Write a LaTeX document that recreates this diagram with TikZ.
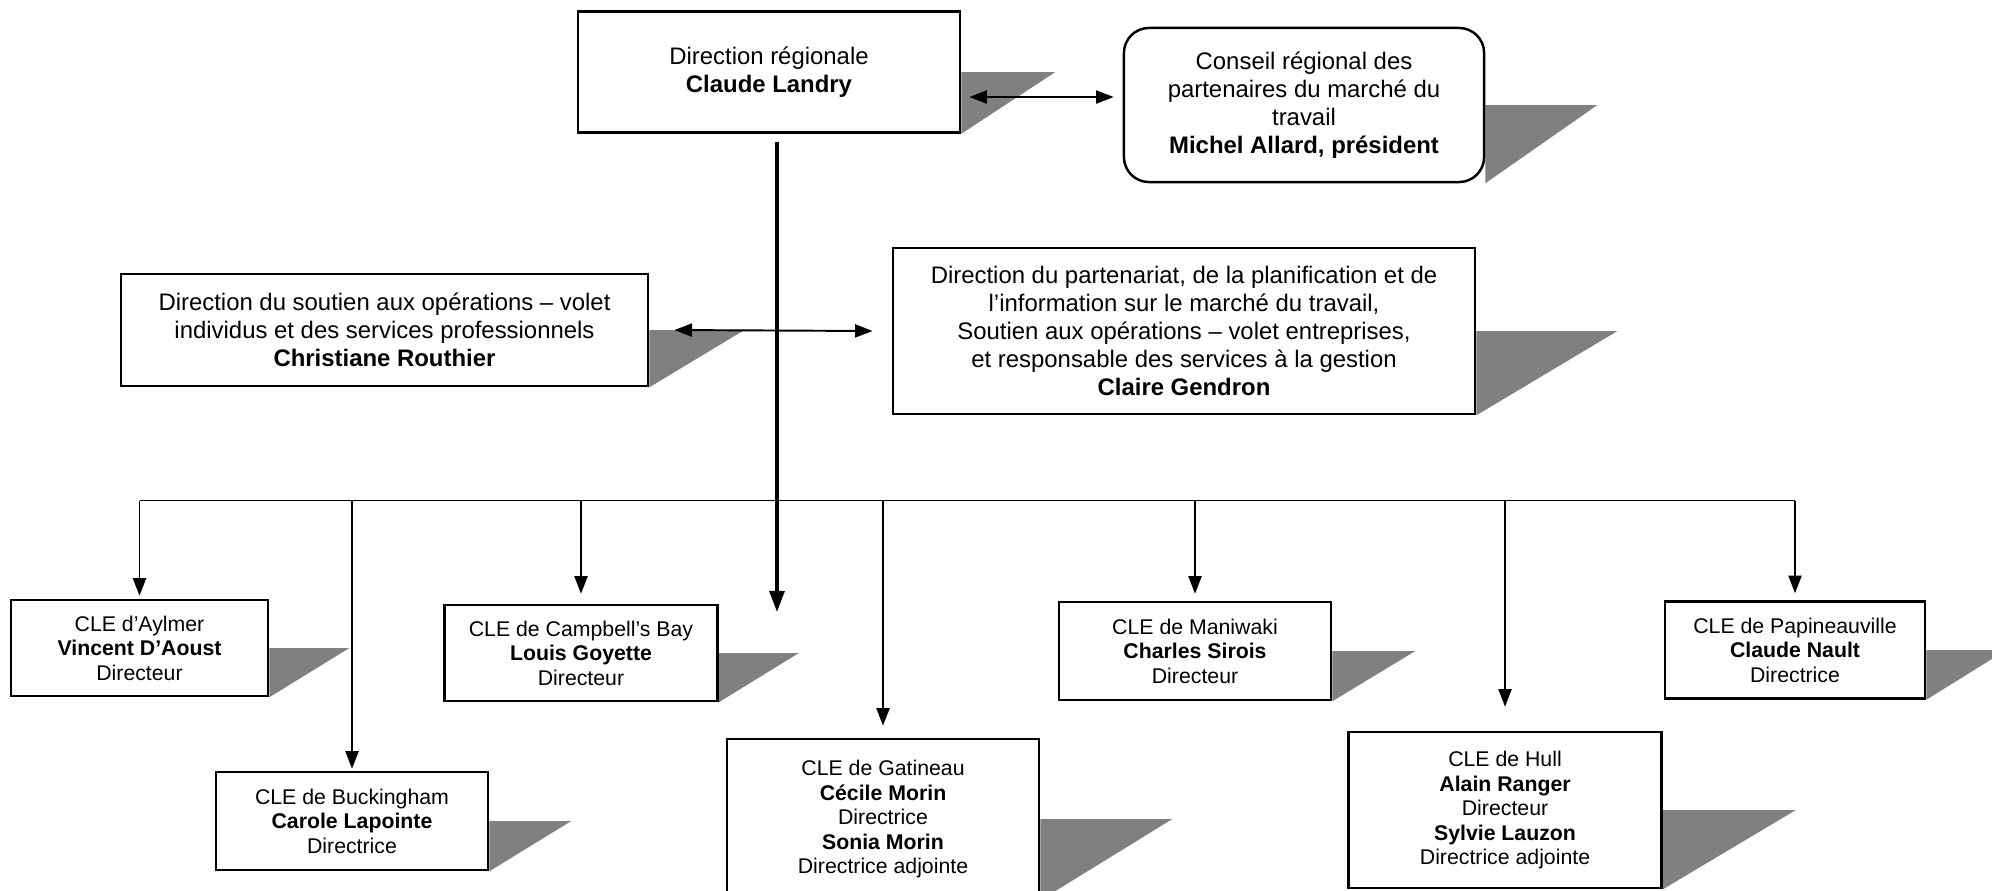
\documentclass[tikz,border=0pt]{standalone}
\usepackage{fontspec}
\setmainfont{Liberation Sans}
\usetikzlibrary{
	arrows.meta,
	calc,
	backgrounds,
	}

\begin{document}
\begin{tikzpicture}[x=0.01cm, y=-0.01cm,
		topbox/.style={draw, line width=0.7pt, align=center, inner sep=0pt, font=\fontsize{6.8}{7.97}\selectfont},
		clebox/.style={draw, line width=0.7pt, align=center, inner sep=0pt, font=\fontsize{6.05}{6.97}\selectfont},
		boxshadow/.style={fill=black!50},
		link/.style={line width=0.55pt, -{Stealth[inset=0pt, length=5pt, width=3.7pt]}},
		twoway/.style={line width=0.55pt, {Stealth[inset=0pt, length=5pt, width=3.7pt]}-{Stealth[inset=0pt, length=5pt, width=3.7pt]}},
		trunk/.style={line width=1.1pt, -{Stealth[inset=0pt, length=6pt, width=4.2pt]}}]
			\useasboundingbox (0,0) rectangle (1992,890);

			% direction
			\node[topbox, minimum width=3.82cm, minimum height=1.21cm] (dr) at (769,72) {Direction régionale\\\textbf{Claude Landry}};
			\node[topbox, rounded corners=0.25cm, minimum width=3.60cm, minimum height=1.54cm] (conseil) at (1304,105) {Conseil régional des\\partenaires du marché du\\travail\\\textbf{Michel Allard, président}};
			\node[topbox, minimum width=5.27cm, minimum height=1.12cm] (soutien) at (384.5,330) {Direction du soutien aux opérations – volet\\individus et des services professionnels\\\textbf{Christiane Routhier}};
			\node[topbox, minimum width=5.82cm, minimum height=1.66cm] (part) at (1184,331) {Direction du partenariat, de la planification et de\\l’information sur le marché du travail,\\Soutien aux opérations – volet entreprises,\\et responsable des services à la gestion\\\textbf{Claire Gendron}};

			% CLE
			\node[clebox, minimum width=2.57cm, minimum height=0.96cm] (aylmer) at (139.5,648) {CLE d’Aylmer\\\textbf{Vincent D’Aoust}\\Directeur};
			\node[clebox, minimum width=2.72cm, minimum height=0.98cm] (buckingham) at (352,821) {CLE de Buckingham\\\textbf{Carole Lapointe}\\Directrice};
			\node[clebox, minimum width=2.73cm, minimum height=0.96cm] (campbell) at (581,653) {CLE de Campbell’s Bay\\\textbf{Louis Goyette}\\Directeur};
			\node[clebox, minimum width=3.12cm, minimum height=1.60cm] (gatineau) at (883,819) {CLE de Gatineau\\\textbf{Cécile Morin}\\Directrice\\\textbf{Sonia Morin}\\Directrice adjointe};
			\node[clebox, minimum width=2.72cm, minimum height=0.98cm] (maniwaki) at (1195,651) {CLE de Maniwaki\\\textbf{Charles Sirois}\\Directeur};
			\node[clebox, minimum width=3.13cm, minimum height=1.56cm] (hull) at (1505,810) {CLE de Hull\\\textbf{Alain Ranger}\\Directeur\\\textbf{Sylvie Lauzon}\\Directrice adjointe};
			\node[clebox, minimum width=2.60cm, minimum height=0.97cm] (papineau) at (1795,650) {CLE de Papineauville\\\textbf{Claude Nault}\\Directrice};

			\begin{scope}[on background layer]
				\foreach \n/\d in {dr/94, conseil/112, soutien/95, part/141, aylmer/80, buckingham/82, campbell/80, gatineau/132, maniwaki/83, hull/133, papineau/80}
					\fill[boxshadow] (\n.east) -- ++(\d,0) -- (\n.south east) -- cycle;
			\end{scope}

			\coordinate (trunkend) at (777,612);
			\coordinate (bus) at (0,500.5);

			\draw[twoway, shorten <=0.08cm, shorten >=0.09cm] ([yshift=-0.25cm]dr.east) -- ([yshift=-0.25cm]dr.east -| conseil.west);
			\draw[trunk, shorten <=0.08cm] (dr.south -| trunkend) -- (trunkend);
			\draw[twoway] ([xshift=0.25cm]soutien.east) -- ([xshift=-0.19cm]part.west);

			\draw[line width=0.55pt] (aylmer.north |- bus) -- (papineau.north |- bus);
			\foreach \n/\g in {aylmer/0.03cm, buckingham/0.02cm, campbell/0.10cm, gatineau/0.12cm, maniwaki/0.07cm, hull/0.24cm, papineau/0.07cm}
				\draw[link, shorten >=\g] (\n.north |- bus) -- (\n.north);

		\end{tikzpicture}
\end{document}
